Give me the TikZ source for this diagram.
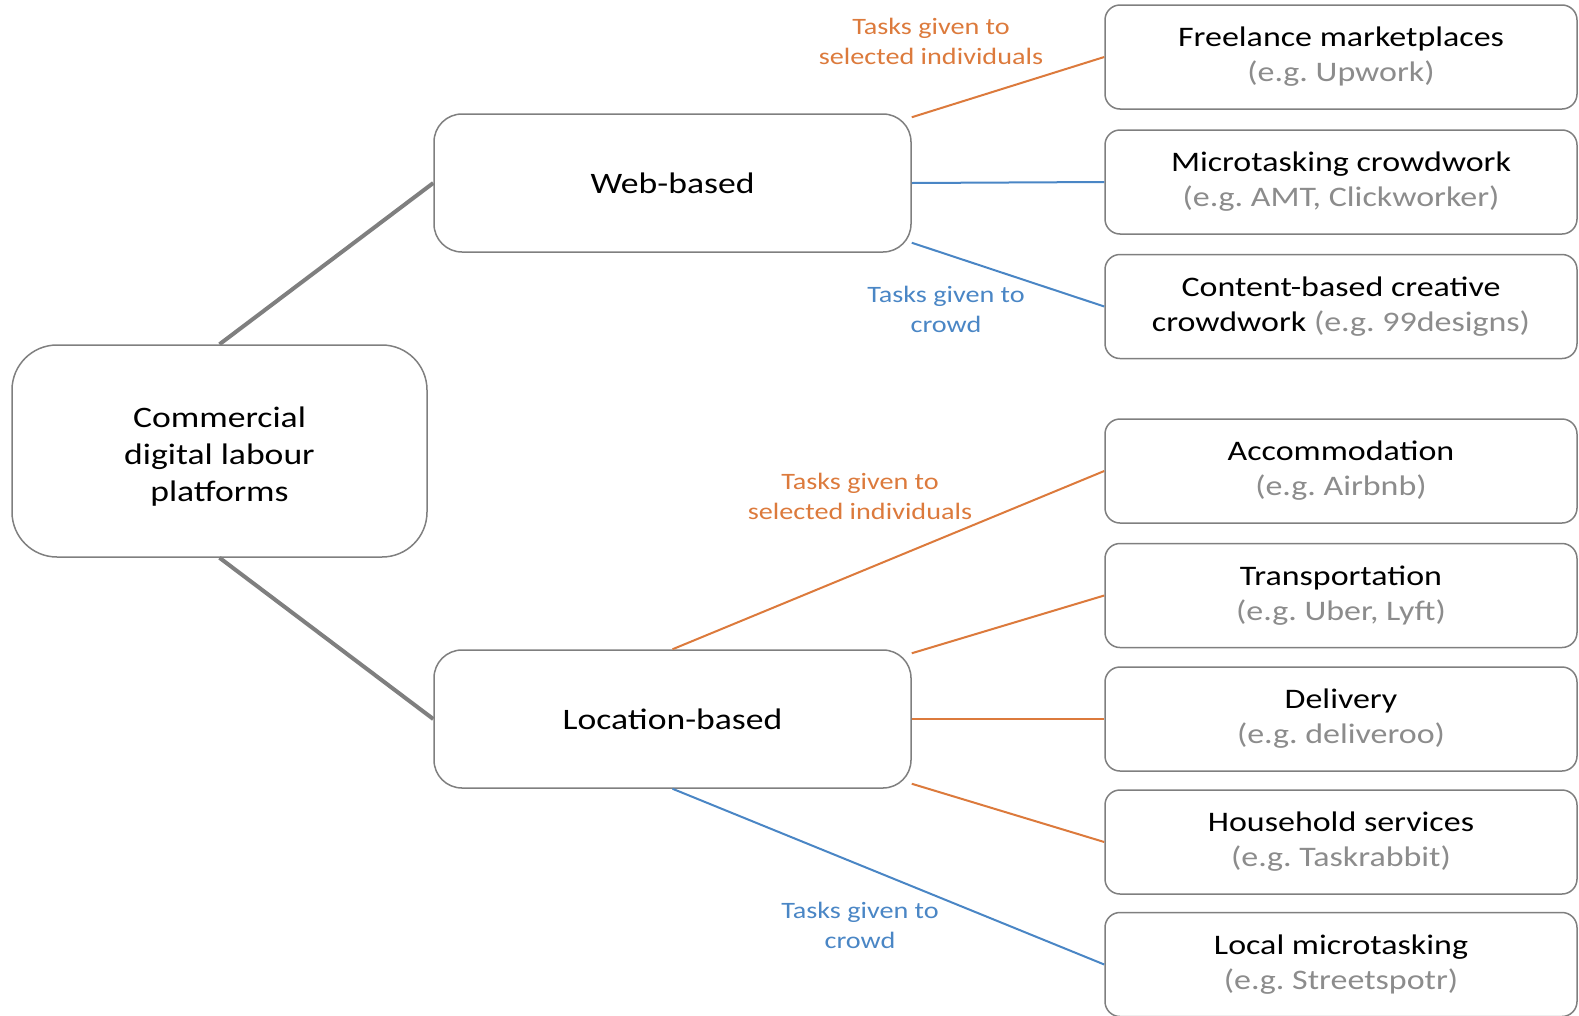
\documentclass[tikz,border=0pt]{standalone}
\usepackage{fontspec}
\setmainfont[FakeStretch=1.2]{Carlito}
\usetikzlibrary{positioning}
\frenchspacing

\definecolor{taskorange}{HTML}{DC7A3C}
\definecolor{taskblue}{HTML}{4A86C5}
\definecolor{boxgray}{HTML}{7F7F7F}
\definecolor{egray}{HTML}{8C8C8C}

\tikzset{
    catbox/.style={draw=boxgray, line width=1.5pt, align=center, inner sep=0pt,
        font=\fontsize{28.3}{35}\selectfont},
    leafbox/.style={catbox, rounded corners=15pt, minimum width=472pt, minimum height=104pt},
    midbox/.style={catbox, rounded corners=28pt, minimum width=477pt, minimum height=138pt,
        font=\fontsize{29.7}{37}\selectfont},
    trunk/.style={boxgray, line width=4pt},
    selline/.style={taskorange, line width=2pt},
    crowdline/.style={taskblue, line width=2pt},
    tasklabel/.style={align=center, inner sep=0pt, font=\fontsize{23.5}{30}\selectfont}
}

\begin{document}
\begin{tikzpicture}[x=1pt, y=-1pt]
        \useasboundingbox (0,0) rectangle (1579,1015);
        \node[midbox, rounded corners=45pt, minimum width=415pt, minimum height=212pt] (root) at (219.5,451)
            {\\[-6pt]Commercial\\digital labour\\platforms};
        \node[midbox] (web) at (672.5,183) {Web-based};
        \node[midbox] (loc) at (672.5,719) {Location-based};
        % web-based platforms
        \node[leafbox] (freelance) at (1341,57) {Freelance marketplaces\\\textcolor{egray}{(e.g. Upwork)}};
        \node[leafbox] (micro) at (1341,182) {Microtasking crowdwork\\\textcolor{egray}{(e.g. AMT, Clickworker)}};
        \node[leafbox] (content) at (1341,306.5) {Content-based creative\\crowdwork \textcolor{egray}{(e.g. 99designs)}};
        % location-based platforms
        \node[leafbox] (accom) at (1341,471) {Accommodation\\\textcolor{egray}{(e.g. Airbnb)}};
        \node[leafbox] (transport) at (1341,595.5) {Transportation\\\textcolor{egray}{(e.g. Uber, Lyft)}};
        \node[leafbox] (delivery) at (1341,719) {Delivery\\\textcolor{egray}{(e.g. deliveroo)}};
        \node[leafbox] (household) at (1341,842) {Household services\\\textcolor{egray}{(e.g. Taskrabbit)}};
        \node[leafbox] (localmt) at (1341,964.5) {Local microtasking\\\textcolor{egray}{(e.g. Streetspotr)}};

        \draw [trunk] (root.north)--(web.west);
        \draw [trunk] (root.south)--(loc.west);

        \draw [selline] ([yshift=-4pt]web.north east)--(freelance.west);
        \draw [crowdline] (web.east)--(micro.west);
        \draw [crowdline] ([yshift=10pt]web.south east)--(content.west);

        \draw [selline] (loc.north)--(accom.west);
        \draw [selline] ([yshift=-4pt]loc.north east)--(transport.west);
        \draw [selline] (loc.east)--(delivery.west);
        \draw [selline] ([yshift=5pt]loc.south east)--(household.west);
        \draw [crowdline] (loc.south)--(localmt.west);

        \node[tasklabel, text=taskorange] (websel) at (931,41) {Tasks given to\\selected individuals};
        \node[tasklabel, text=taskblue] (webcrowd) at (946,309) {Tasks given to\\crowd};
        \node[tasklabel, text=taskorange] (locsel) at (860,496) {Tasks given to\\selected individuals};
        \node[tasklabel, text=taskblue] (loccrowd) at (860,925) {Tasks given to\\crowd};
    \end{tikzpicture}
\end{document}
